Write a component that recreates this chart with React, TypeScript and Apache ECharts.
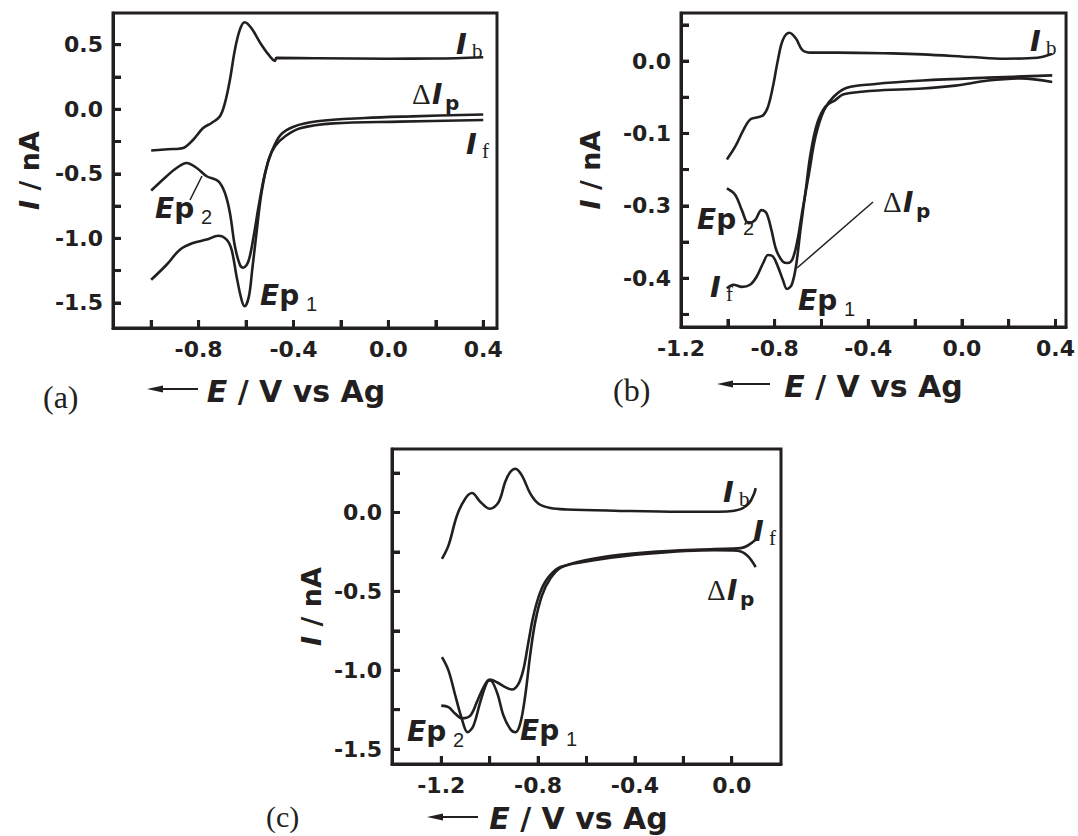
import React, { useEffect, useRef } from "react";
import * as echarts from "echarts";

// ---------- Panel (a) ----------
const aIbE = [-1.0, -0.93, -0.865, -0.823, -0.781, -0.745, -0.71, -0.689, -0.668, -0.647, -0.626, -0.606, -0.578, -0.54, -0.505, -0.478, -0.472, -0.3, 0.0, 0.2, 0.4];
const aIbI = [-0.32, -0.31, -0.3, -0.236, -0.145, -0.106, -0.054, 0.049, 0.229, 0.462, 0.617, 0.674, 0.63, 0.514, 0.423, 0.375, 0.398, 0.395, 0.392, 0.393, 0.403];
const aDpE = [-1.0, -0.935, -0.893, -0.851, -0.808, -0.766, -0.717, -0.689, -0.668, -0.647, -0.626, -0.612, -0.59, -0.568, -0.547, -0.52, -0.49, -0.455, -0.4, -0.3, -0.1, 0.1, 0.4];
const aDpI = [-0.63, -0.519, -0.455, -0.416, -0.455, -0.519, -0.558, -0.649, -0.804, -1.062, -1.205, -1.228, -1.178, -0.984, -0.752, -0.494, -0.32, -0.2, -0.135, -0.093, -0.068, -0.055, -0.04];
const aIfE = [-1.0, -0.935, -0.879, -0.823, -0.766, -0.717, -0.682, -0.661, -0.64, -0.619, -0.606, -0.588, -0.574, -0.556, -0.535, -0.505, -0.478, -0.435, -0.372, -0.232, 0.049, 0.4];
const aIfI = [-1.321, -1.205, -1.088, -1.036, -1.01, -0.98, -1.01, -1.088, -1.295, -1.476, -1.527, -1.45, -1.243, -0.959, -0.649, -0.391, -0.287, -0.209, -0.147, -0.109, -0.096, -0.083];

// ---------- Panel (b) ----------
const bIbE = [-1.004, -0.968, -0.933, -0.905, -0.877, -0.849, -0.828, -0.807, -0.786, -0.765, -0.737, -0.709, -0.681, -0.646, -0.533, -0.3, -0.168, 0.042, 0.183, 0.323, 0.386];
const bIbI = [-0.136, -0.118, -0.095, -0.081, -0.078, -0.075, -0.063, -0.035, 0.0014, 0.029, 0.039, 0.031, 0.015, 0.0116, 0.0116, 0.0105, 0.0092, 0.0055, 0.0032, 0.0046, 0.01];
const bDpE = [-1.004, -0.968, -0.94, -0.912, -0.884, -0.856, -0.835, -0.814, -0.793, -0.765, -0.744, -0.723, -0.702, -0.681, -0.653, -0.625, -0.589, -0.547, -0.491, -0.379, -0.168, 0.112, 0.386];
const bDpI = [-0.176, -0.185, -0.206, -0.224, -0.22, -0.206, -0.21, -0.233, -0.261, -0.277, -0.279, -0.273, -0.247, -0.206, -0.155, -0.104, -0.068, -0.049, -0.0368, -0.032, -0.027, -0.023, -0.0198];
const bIfE = [-1.004, -0.976, -0.94, -0.905, -0.877, -0.849, -0.828, -0.807, -0.786, -0.765, -0.747, -0.727, -0.709, -0.688, -0.667, -0.646, -0.618, -0.583, -0.541, -0.505, -0.379, -0.168, -0.028, 0.112, 0.253, 0.386];
const bIfI = [-0.314, -0.309, -0.312, -0.309, -0.298, -0.279, -0.268, -0.27, -0.284, -0.302, -0.315, -0.309, -0.284, -0.229, -0.178, -0.127, -0.086, -0.063, -0.054, -0.046, -0.041, -0.038, -0.034, -0.027, -0.024, -0.029];
// printed tick labels of panel (b) as they appear in the figure
const bYLabelVals = [0, -0.1, -0.2, -0.3];
const bYLabelText = ["0.0", "-0.1", "-0.3", "-0.4"];

// ---------- Panel (c) ----------
const cIbE = [-1.197, -1.17, -1.135, -1.101, -1.073, -1.038, -1.0, -0.963, -0.936, -0.915, -0.894, -0.867, -0.832, -0.798, -0.749, -0.681, -0.486, -0.21, -0.018, 0.037, 0.072, 0.093, 0.099];
const cIbI = [-0.294, -0.209, -0.019, 0.087, 0.123, 0.066, 0.023, 0.066, 0.193, 0.256, 0.277, 0.235, 0.119, 0.055, 0.028, 0.019, 0.011, 0.004, 0.006, 0.021, 0.059, 0.122, 0.154];
const cIfE = [-1.197, -1.17, -1.142, -1.115, -1.091, -1.067, -1.039, -1.011, -0.998, -0.97, -0.943, -0.915, -0.894, -0.874, -0.853, -0.833, -0.812, -0.784, -0.75, -0.702, -0.555, -0.348, -0.072, 0.037, 0.065, 0.099];
const cIfI = [-0.917, -1.002, -1.16, -1.308, -1.393, -1.351, -1.202, -1.076, -1.065, -1.139, -1.287, -1.372, -1.393, -1.34, -1.16, -0.907, -0.695, -0.526, -0.42, -0.346, -0.289, -0.253, -0.232, -0.226, -0.211, -0.173];
const cDpE = [-1.2, -1.17, -1.142, -1.115, -1.08, -1.053, -1.025, -1.0, -0.97, -0.936, -0.908, -0.881, -0.86, -0.84, -0.819, -0.791, -0.757, -0.708, -0.555, -0.348, -0.072, 0.024, 0.065, 0.099];
const cDpI = [-1.224, -1.234, -1.276, -1.304, -1.287, -1.202, -1.107, -1.059, -1.076, -1.107, -1.122, -1.086, -0.991, -0.822, -0.653, -0.505, -0.41, -0.346, -0.3, -0.262, -0.24, -0.243, -0.274, -0.346];

// ---------- Axis ticks & labels ----------
const aXTicks = [-1.0, -0.8, -0.6, -0.4, -0.2, 0.0, 0.2, 0.4];
const aXLabels = [-0.8, -0.4, 0.0, 0.4];
const aYTicks = [-1.5, -1.25, -1.0, -0.75, -0.5, -0.25, 0.0, 0.25, 0.5];
const aYLabels = [-1.5, -1.0, -0.5, 0.0, 0.5];
const bXTicks = [-1.0, -0.8, -0.6, -0.4, -0.2, 0.0, 0.2, 0.4];
const bXLabels = [-1.2, -0.8, -0.4, 0.0, 0.4];
const bYTicks = [-0.35, -0.3, -0.25, -0.2, -0.15, -0.1, -0.05, 0.0, 0.05];
const cXTicks = [-1.2, -1.0, -0.8, -0.6, -0.4, -0.2, 0.0];
const cXLabels = [-1.2, -0.8, -0.4, 0.0];
const cYTicks = [-1.5, -1.25, -1.0, -0.75, -0.5, -0.25, 0.0, 0.25];
const cYLabels = [-1.5, -1.0, -0.5, 0.0];

const INK = "#231f20";
const BOLD = "'DejaVu Sans', 'Liberation Sans', Arial, sans-serif";
const SANS = "'Liberation Sans', Arial, sans-serif";
const SERIF = "'Liberation Serif', 'Times New Roman', serif";

const zip = (xs: number[], ys: number[]) => xs.map((x, i) => [x, ys[i]]);
const fmt = (v: number) => (Math.abs(v) < 1e-9 ? "0.0" : v.toFixed(1));

function tickLabel() {
  return { fontSize: 22, fontWeight: "bold", fontFamily: BOLD, color: INK, margin: 10 };
}

function xAxis(gi: number, min: number, max: number, ticks: number[], labels: number[], nameGap: number, shift: number) {
  return {
    gridIndex: gi,
    type: "value",
    position: "bottom",
    min,
    max,
    axisLine: { show: true, onZero: false, lineStyle: { color: INK, width: 3 } },
    splitLine: { show: false },
    axisTick: { show: true, inside: true, length: 8, customValues: ticks.slice(), lineStyle: { color: INK, width: 3 } },
    axisLabel: { ...tickLabel(), customValues: labels.slice(), formatter: (v: number) => fmt(v) },
    name: "{e|E}{n| / V vs Ag}",
    nameLocation: "middle",
    nameGap,
    nameTextStyle: {
      padding: [0, shift, 0, 0],
      rich: {
        e: { fontSize: 30, fontWeight: "bold", fontStyle: "italic", fontFamily: BOLD, color: INK },
        n: { fontSize: 30, fontWeight: "bold", fontFamily: BOLD, color: INK },
      },
    },
  };
}

function yAxis(gi: number, min: number, max: number, ticks: number[], labels: number[], nameGap: number, formatter?: (v: number) => string) {
  return {
    gridIndex: gi,
    type: "value",
    position: "left",
    min,
    max,
    axisLine: { show: true, onZero: false, lineStyle: { color: INK, width: 3 } },
    splitLine: { show: false },
    axisTick: { show: true, inside: true, length: 8, customValues: ticks.slice(), lineStyle: { color: INK, width: 3 } },
    axisLabel: { ...tickLabel(), customValues: labels.slice(), formatter: formatter || ((v: number) => fmt(v)) },
    name: "{i|I}{n| / nA}",
    nameLocation: "middle",
    nameGap,
    nameTextStyle: {
      rich: {
        i: { fontSize: 27, fontWeight: "bold", fontStyle: "italic", fontFamily: BOLD, color: INK },
        n: { fontSize: 27, fontWeight: "bold", fontFamily: BOLD, color: INK },
      },
    },
  };
}

function line(name: string, xi: number, xs: number[], ys: number[]) {
  return {
    name,
    type: "line",
    xAxisIndex: xi,
    yAxisIndex: xi,
    data: zip(xs, ys),
    smooth: 0.35,
    showSymbol: false,
    symbol: "none",
    lineStyle: { color: INK, width: 2.6 },
  };
}

// inward tick marks placed through the axes' own scales (same size as the axis ticks)
function xTickMarks(xi: number, ticks: number[], yMin: number) {
  return {
    type: "scatter",
    xAxisIndex: xi,
    yAxisIndex: xi,
    data: ticks.map((v) => [v, yMin]),
    symbol: "rect",
    symbolSize: [3, 8],
    symbolOffset: [0, -4],
    itemStyle: { color: INK },
    clip: false,
    silent: true,
    z: 4,
  };
}
function yTickMarks(xi: number, ticks: number[], xMin: number) {
  return {
    type: "scatter",
    xAxisIndex: xi,
    yAxisIndex: xi,
    data: ticks.map((v) => [xMin, v]),
    symbol: "rect",
    symbolSize: [8, 3],
    symbolOffset: [4, 0],
    itemStyle: { color: INK },
    clip: false,
    silent: true,
    z: 4,
  };
}

function txt(x: number, y: number, text: string, size: number, opts: any = {}) {
  return {
    type: "text",
    x,
    y,
    z: 10,
    style: {
      text,
      fontSize: size,
      fontFamily: opts.serif ? SERIF : opts.bold ? BOLD : SANS,
      fontWeight: opts.bold ? "bold" : "normal",
      fontStyle: opts.italic ? "italic" : "normal",
      fill: INK,
      align: opts.align || "left",
      verticalAlign: "middle",
      textAlign: opts.align || "left",
      textVerticalAlign: "middle",
    },
  };
}

function ep(x: number, y: number, sub: string) {
  return [
    {
      type: "text",
      x,
      y,
      z: 10,
      style: {
        text: "{e|E}{p|p}",
        rich: {
          e: { fontSize: 28, fontWeight: "bold", fontStyle: "italic", fontFamily: BOLD, fill: INK, color: INK },
          p: { fontSize: 28, fontWeight: "bold", fontFamily: BOLD, fill: INK, color: INK },
        },
        align: "left",
        verticalAlign: "middle",
        textAlign: "left",
        textVerticalAlign: "middle",
      },
    },
    txt(x + 46, y + 9, sub, 20),
  ];
}

function curLabel(x: number, y: number, sub: string) {
  return [txt(x, y, "I", 29, { bold: true, italic: true }), txt(x + 16, y + 7, sub, 21, { serif: true })];
}

function dLabel(x: number, y: number) {
  return [
    txt(x, y, "Δ", 29, { serif: true }),
    txt(x + 20, y, "I", 28, { bold: true, italic: true }),
    txt(x + 33, y + 9, "p", 20, { bold: true }),
  ];
}

function arrow(x1: number, x2: number, y: number) {
  return [
    { type: "line", z: 10, shape: { x1: x1 + 10, y1: y, x2, y2: y }, style: { stroke: INK, lineWidth: 2.2 } },
    { type: "polygon", z: 10, shape: { points: [[x1, y], [x1 + 16, y - 3.5], [x1 + 16, y + 3.5]] }, style: { fill: INK } },
  ];
}

export default function App() {
  const ref = useRef<HTMLDivElement>(null);
  useEffect(() => {
    if (!ref.current) return;
    const chart = echarts.init(ref.current, undefined, { renderer: "svg" });
    const gridStyle = { show: true, borderColor: INK, borderWidth: 3 };
    const bFormatter = (v: number) => {
      const i = bYLabelVals.findIndex((b) => Math.abs(b - v) < 1e-6);
      return i >= 0 ? bYLabelText[i] : fmt(v);
    };
    const ax = { a: [-1.161, 0.458], b: [-1.2, 0.445], c: [-1.4035, 0.2036] };
    const ay = { a: [-1.695, 0.746], b: [-0.3674, 0.0663], c: [-1.594, 0.402] };
    const option: any = {
      animation: false,
      grid: [
        { left: 113, top: 13, width: 384, height: 315, ...gridStyle },
        { left: 681, top: 13, width: 388, height: 314, ...gridStyle },
        { left: 392, top: 449, width: 389, height: 315, ...gridStyle },
      ],
      xAxis: [
        xAxis(0, ax.a[0], ax.a[1], aXTicks, aXLabels, 48, 18),
        xAxis(1, ax.b[0], ax.b[1], bXTicks, bXLabels, 44, 0),
        xAxis(2, ax.c[0], ax.c[1], cXTicks, cXLabels, 39, 16),
      ],
      yAxis: [
        yAxis(0, ay.a[0], ay.a[1], aYTicks, aYLabels, 70),
        yAxis(1, ay.b[0], ay.b[1], bYTicks, bYLabelVals, 77, bFormatter),
        yAxis(2, ay.c[0], ay.c[1], cYTicks, cYLabels, 67),
      ],
      series: [
        line("Ib (a)", 0, aIbE, aIbI),
        line("ΔIp (a)", 0, aDpE, aDpI),
        line("If (a)", 0, aIfE, aIfI),
        line("Ib (b)", 1, bIbE, bIbI),
        line("ΔIp (b)", 1, bDpE, bDpI),
        line("If (b)", 1, bIfE, bIfI),
        line("Ib (c)", 2, cIbE, cIbI),
        line("If (c)", 2, cIfE, cIfI),
        line("ΔIp (c)", 2, cDpE, cDpI),
        xTickMarks(0, aXTicks, ay.a[0]),
        yTickMarks(0, aYTicks, ax.a[0]),
        xTickMarks(1, bXTicks, ay.b[0]),
        yTickMarks(1, bYTicks, ax.b[0]),
        xTickMarks(2, cXTicks, ay.c[0]),
        yTickMarks(2, cYTicks, ax.c[0]),
      ],
      graphic: {
        elements: [
          // panel (a)
          ...curLabel(456, 44, "b"),
          ...dLabel(412, 94),
          ...curLabel(466, 144, "f"),
          ...ep(155, 208, "2"),
          ...ep(260, 295, "1"),
          { type: "line", z: 10, shape: { x1: 190, y1: 200, x2: 202, y2: 176 }, style: { stroke: INK, lineWidth: 1.5 } },
          txt(43, 397, "(a)", 32, { serif: true }),
          ...arrow(147, 198, 389),
          // panel (b)
          ...curLabel(1030, 41, "b"),
          ...dLabel(883, 202),
          ...curLabel(710, 287, "f"),
          ...ep(697, 219, "2"),
          ...ep(798, 300, "1"),
          { type: "line", z: 10, shape: { x1: 873, y1: 202, x2: 797, y2: 268 }, style: { stroke: INK, lineWidth: 1.5 } },
          txt(613, 390, "(b)", 32, { serif: true }),
          ...arrow(717, 770, 384),
          // panel (c)
          ...curLabel(723, 492, "b"),
          ...curLabel(753, 531, "f"),
          ...dLabel(707, 590),
          ...ep(407, 731, "2"),
          ...ep(520, 730, "1"),
          txt(266, 816, "(c)", 30, { serif: true }),
          ...arrow(427, 478, 817),
        ],
      },
    };
    chart.setOption(option);
    return () => chart.dispose();
  }, []);
  return (
    <div
      ref={ref}
      style={{ position: "absolute", left: 0, top: 0, width: 1078, height: 836, background: "#fff" }}
    />
  );
}
